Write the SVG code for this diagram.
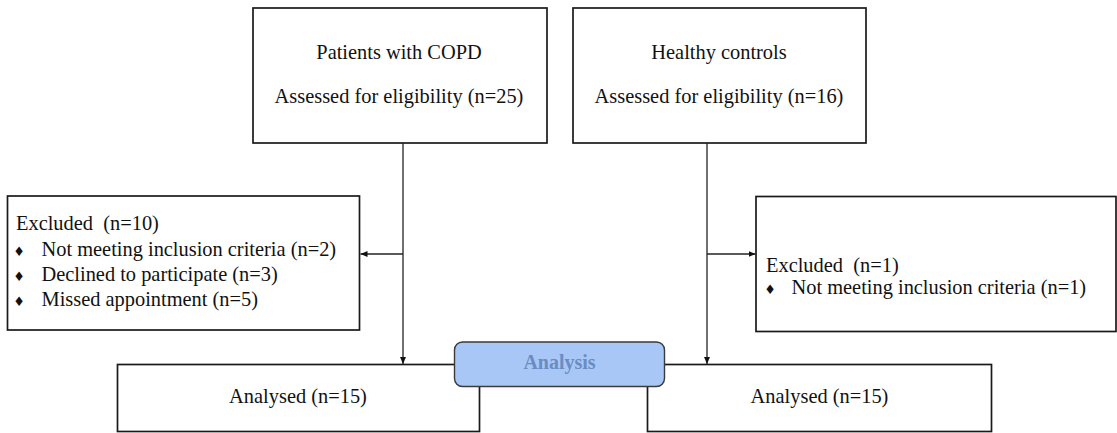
<svg xmlns="http://www.w3.org/2000/svg" width="1117" height="433" viewBox="0 0 1117 433">
<style>
.box{fill:#fff;stroke:#1a1a1a;stroke-width:1.7}
.t{font-family:"Liberation Serif","Times New Roman",serif;font-size:20.4px;fill:#111}
.c{text-anchor:middle}
.b{font-family:"DejaVu Sans",sans-serif;font-size:13px;fill:#111;text-anchor:middle}
.ln{stroke:#222;stroke-width:1.3;fill:none}
.an{fill:#a8c7f7;stroke:#3a3a3a;stroke-width:1.4}
.at{font-family:"Liberation Serif","Times New Roman",serif;font-size:20px;font-weight:bold;fill:#6a8cc2;text-anchor:middle}
</style>
<defs>
<marker id="arr" markerWidth="8" markerHeight="8" refX="7" refY="4" orient="auto" markerUnits="userSpaceOnUse">
<path d="M0,1 L7,4 L0,7 Z" fill="#111"/>
</marker>
</defs>
<g id="copd">
<rect class="box" x="253" y="8" width="294" height="135"/>
<text class="t c" x="399" y="58.5">Patients with COPD</text>
<text class="t c" x="399" y="103">Assessed for eligibility (n=25)</text>
</g>
<g id="healthy">
<rect class="box" x="573" y="8" width="293" height="135"/>
<text class="t c" x="719" y="58.5">Healthy controls</text>
<text class="t c" x="719" y="103">Assessed for eligibility (n=16)</text>
</g>
<g id="excluded-left">
<rect class="box" x="7.5" y="196" width="352" height="134"/>
<text class="t" x="16" y="230">Excluded&#160; (n=10)</text>
<text class="b" x="19" y="256">♦</text>
<text class="t" x="41.5" y="256">Not meeting inclusion criteria (n=2)</text>
<text class="b" x="19" y="281">♦</text>
<text class="t" x="41.5" y="281">Declined to participate (n=3)</text>
<text class="b" x="19" y="306">♦</text>
<text class="t" x="41.5" y="306">Missed appointment (n=5)</text>
</g>
<g id="excluded-right">
<rect class="box" x="756" y="196.5" width="360" height="135"/>
<text class="t" x="766" y="271.5">Excluded&#160; (n=1)</text>
<text class="b" x="770" y="294">♦</text>
<text class="t" x="791.5" y="294">Not meeting inclusion criteria (n=1)</text>
</g>
<g id="analysed-left">
<rect class="box" x="117.5" y="364.5" width="362" height="67"/>
<text class="t c" x="298" y="403">Analysed (n=15)</text>
</g>
<g id="analysed-right">
<rect class="box" x="647.5" y="364.5" width="344" height="67"/>
<text class="t c" x="819.5" y="403">Analysed (n=15)</text>
</g>
<g id="connectors">
<line class="ln" x1="403" y1="143" x2="403" y2="364" marker-end="url(#arr)"/>
<line class="ln" x1="403" y1="254" x2="360.5" y2="254" marker-end="url(#arr)"/>
<line class="ln" x1="707" y1="143" x2="707" y2="364" marker-end="url(#arr)"/>
<line class="ln" x1="707" y1="254" x2="755.5" y2="254" marker-end="url(#arr)"/>
</g>
<g id="analysis">
<rect class="an" x="454.5" y="342" width="210" height="44.5" rx="8" ry="8"/>
<text class="at" x="559.5" y="369">Analysis</text>
</g>
</svg>
